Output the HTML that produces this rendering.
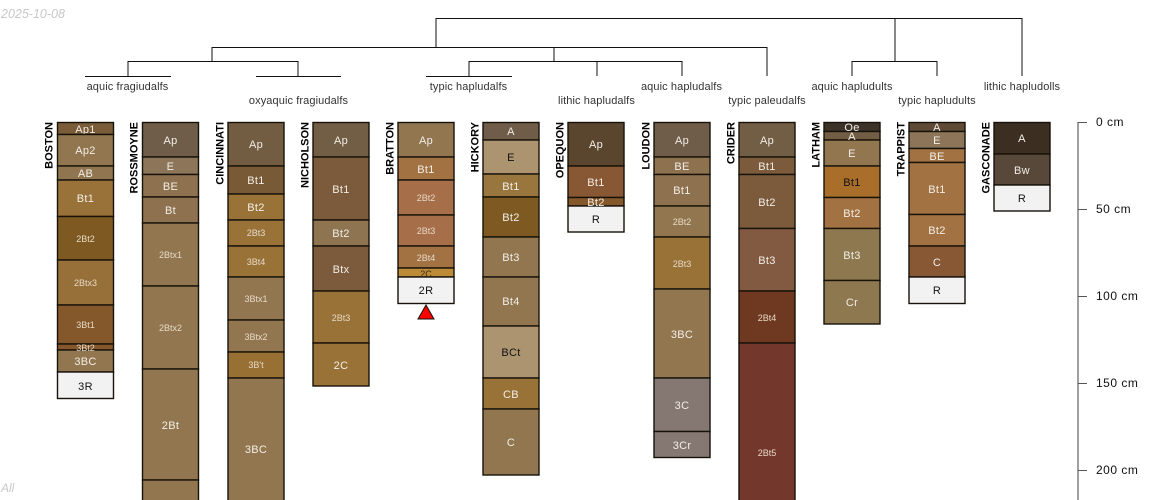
<!DOCTYPE html>
<html><head><meta charset="utf-8"><style>
html,body{margin:0;padding:0;background:#fff}
svg{display:block}
text{font-family:"Liberation Sans",sans-serif}
.h rect{stroke:#17120a;stroke-width:1.4}
.h text{font-size:11px;fill:#f2eee6;text-anchor:middle;letter-spacing:.3px}
.h text.s{font-size:9px;fill:#e6d9c6;letter-spacing:0}
.h text.k{fill:#111}
.n{font-size:11px;font-weight:bold;text-anchor:end;fill:#000}
.t{font-size:11px;letter-spacing:.1px;text-anchor:middle;fill:#333}
.a{font-size:12px;letter-spacing:.5px;fill:#111}
.d line{stroke:#111;stroke-width:1}
</style></head><body>
<svg width="1150" height="500" viewBox="0 0 1150 500" xmlns="http://www.w3.org/2000/svg">
<text x="1" y="18" font-size="12.5" font-style="italic" fill="#c8c8c8">2025-10-08</text>
<text x="1" y="492" font-size="12" font-style="italic" fill="#c8c8c8">All</text>

<g class="d">
<line x1="436" y1="18.5" x2="1022" y2="18.5"/>
<line x1="436" y1="18" x2="436" y2="47"/>
<line x1="212" y1="47.5" x2="767" y2="47.5"/>
<line x1="212" y1="47" x2="212" y2="62"/>
<line x1="128" y1="61.5" x2="298" y2="61.5"/>
<line x1="128" y1="61" x2="128" y2="76"/>
<line x1="298" y1="61" x2="298" y2="76"/>
<line x1="85" y1="76.5" x2="171" y2="76.5"/>
<line x1="256" y1="76.5" x2="341" y2="76.5"/>
<line x1="554" y1="47" x2="554" y2="62"/>
<line x1="469" y1="61.5" x2="682" y2="61.5"/>
<line x1="469" y1="61" x2="469" y2="76"/>
<line x1="426" y1="76.5" x2="512" y2="76.5"/>
<line x1="597" y1="61" x2="597" y2="76"/>
<line x1="682" y1="61" x2="682" y2="76"/>
<line x1="767" y1="47" x2="767" y2="76"/>
<line x1="895" y1="18" x2="895" y2="62"/>
<line x1="852" y1="61.5" x2="937" y2="61.5"/>
<line x1="852" y1="61" x2="852" y2="76"/>
<line x1="937" y1="61" x2="937" y2="76"/>
<line x1="1022" y1="18" x2="1022" y2="76"/>
</g>
<text class="t" x="127.5" y="90">aquic fragiudalfs</text>
<text class="t" x="298.5" y="104">oxyaquic fragiudalfs</text>
<text class="t" x="468.5" y="90">typic hapludalfs</text>
<text class="t" x="596.5" y="104">lithic hapludalfs</text>
<text class="t" x="681.5" y="90">aquic hapludalfs</text>
<text class="t" x="767" y="104">typic paleudalfs</text>
<text class="t" x="852" y="90">aquic hapludults</text>
<text class="t" x="937" y="104">typic hapludults</text>
<text class="t" x="1022" y="90">lithic hapludolls</text>

<text class="n" transform="translate(52.5,122) rotate(-90)">BOSTON</text>
<text class="n" transform="translate(137.5,122) rotate(-90)">ROSSMOYNE</text>
<text class="n" transform="translate(223.5,122) rotate(-90)">CINCINNATI</text>
<text class="n" transform="translate(308.5,122) rotate(-90)">NICHOLSON</text>
<text class="n" transform="translate(393.5,122) rotate(-90)">BRATTON</text>
<text class="n" transform="translate(478.5,122) rotate(-90)">HICKORY</text>
<text class="n" transform="translate(563.5,122) rotate(-90)">OPEQUON</text>
<text class="n" transform="translate(649.5,122) rotate(-90)">LOUDON</text>
<text class="n" transform="translate(734.5,122) rotate(-90)">CRIDER</text>
<text class="n" transform="translate(819.5,122) rotate(-90)">LATHAM</text>
<text class="n" transform="translate(904.5,122) rotate(-90)">TRAPPIST</text>
<text class="n" transform="translate(989.5,122) rotate(-90)">GASCONADE</text>

<g class="h">
<rect x="57.5" y="122.5" width="56" height="12" fill="#7a5c38"/><text x="85.5" y="133">Ap1</text>
<rect x="57.5" y="134.5" width="56" height="31.5" fill="#927650"/><text x="85.5" y="154">Ap2</text>
<rect x="57.5" y="166" width="56" height="14" fill="#917550"/><text x="85.5" y="177">AB</text>
<rect x="57.5" y="180" width="56" height="36.5" fill="#99723a"/><text x="85.5" y="202">Bt1</text>
<rect x="57.5" y="216.5" width="56" height="43.5" fill="#7e5a22"/><text class="s" x="85.5" y="242">2Bt2</text>
<rect x="57.5" y="260" width="56" height="45" fill="#976f38"/><text class="s" x="85.5" y="286">2Btx3</text>
<rect x="57.5" y="305" width="56" height="39" fill="#84582a"/><text class="s" x="85.5" y="328">3Bt1</text>
<rect x="57.5" y="344" width="56" height="6" fill="#84582a"/>
<rect x="57.5" y="350" width="56" height="22" fill="#927650"/><text x="85.5" y="365">3BC</text>
<text class="s" x="85.5" y="351">3Bt2</text>
<rect x="57.5" y="372" width="56" height="26.5" fill="#f2f2f2"/><text class="k" x="85.5" y="390">3R</text>

<rect x="142.5" y="122.5" width="56" height="34.5" fill="#6f5d4a"/><text x="170.5" y="144">Ap</text>
<rect x="142.5" y="157" width="56" height="17.5" fill="#8c7558"/><text x="170.5" y="170">E</text>
<rect x="142.5" y="174.5" width="56" height="22.5" fill="#8e7250"/><text x="170.5" y="190">BE</text>
<rect x="142.5" y="197" width="56" height="26" fill="#8e7250"/><text x="170.5" y="214">Bt</text>
<rect x="142.5" y="223" width="56" height="63" fill="#927650"/><text class="s" x="170.5" y="258">2Btx1</text>
<rect x="142.5" y="286" width="56" height="83" fill="#927650"/><text class="s" x="170.5" y="331">2Btx2</text>
<rect x="142.5" y="369" width="56" height="111" fill="#927650"/><text x="170.5" y="429">2Bt</text>
<rect x="142.5" y="480" width="56" height="30" fill="#927650"/>

<rect x="228" y="122.5" width="56" height="43.5" fill="#725c42"/><text x="256" y="148">Ap</text>
<rect x="228" y="166" width="56" height="28" fill="#785a36"/><text x="256" y="184">Bt1</text>
<rect x="228" y="194" width="56" height="26" fill="#997238"/><text x="256" y="211">Bt2</text>
<rect x="228" y="220" width="56" height="26" fill="#997238"/><text class="s" x="256" y="236">2Bt3</text>
<rect x="228" y="246" width="56" height="31" fill="#997238"/><text class="s" x="256" y="265">3Bt4</text>
<rect x="228" y="277" width="56" height="43" fill="#927650"/><text class="s" x="256" y="302">3Btx1</text>
<rect x="228" y="320" width="56" height="32" fill="#927650"/><text class="s" x="256" y="340">3Btx2</text>
<rect x="228" y="352" width="56" height="26" fill="#987034"/><text class="s" x="256" y="368">3B't</text>
<rect x="228" y="378" width="56" height="132" fill="#927650"/><text x="256" y="453">3BC</text>

<rect x="313" y="122.5" width="56" height="34.5" fill="#725e44"/><text x="341" y="144">Ap</text>
<rect x="313" y="157" width="56" height="63" fill="#7b5b3c"/><text x="341" y="193">Bt1</text>
<rect x="313" y="220" width="56" height="26" fill="#8e7450"/><text x="341" y="237">Bt2</text>
<rect x="313" y="246" width="56" height="45" fill="#7b5b3c"/><text x="341" y="273">Btx</text>
<rect x="313" y="291" width="56" height="52" fill="#997238"/><text class="s" x="341" y="321">2Bt3</text>
<rect x="313" y="343" width="56" height="43" fill="#997238"/><text x="341" y="369">2C</text>

<rect x="398" y="122.5" width="56" height="34.5" fill="#927650"/><text x="426" y="144">Ap</text>
<rect x="398" y="157" width="56" height="23" fill="#a27243"/><text x="426" y="173">Bt1</text>
<rect x="398" y="180" width="56" height="35" fill="#a66e49"/><text class="s" x="426" y="201">2Bt2</text>
<rect x="398" y="215" width="56" height="31" fill="#a66e49"/><text class="s" x="426" y="234">2Bt3</text>
<rect x="398" y="246" width="56" height="22" fill="#a27243"/><text class="s" x="426" y="261">2Bt4</text>
<rect x="398" y="268" width="56" height="9" fill="#bd8a37"/>
<rect x="398" y="277" width="56" height="26.5" fill="#f2f2f2"/><text class="k" x="426" y="294">2R</text>
<text class="s" x="426" y="277" style="fill:#3a2a12">2C</text>
<polygon points="426,305 418,319 434,319" fill="#f00" stroke="#111" stroke-width="1"/>

<rect x="483" y="122.5" width="56" height="17.5" fill="#6f5d4a"/><text x="511" y="135">A</text>
<rect x="483" y="140" width="56" height="34" fill="#ad9470"/><text class="k" x="511" y="161">E</text>
<rect x="483" y="174" width="56" height="23" fill="#99763e"/><text x="511" y="190">Bt1</text>
<rect x="483" y="197" width="56" height="40" fill="#7e5a22"/><text x="511" y="221">Bt2</text>
<rect x="483" y="237" width="56" height="40" fill="#927650"/><text x="511" y="261">Bt3</text>
<rect x="483" y="277" width="56" height="49" fill="#927650"/><text x="511" y="305">Bt4</text>
<rect x="483" y="326" width="56" height="52" fill="#ad9470"/><text class="k" x="511" y="356">BCt</text>
<rect x="483" y="378" width="56" height="31" fill="#997238"/><text x="511" y="398">CB</text>
<rect x="483" y="409" width="56" height="66" fill="#927650"/><text x="511" y="446">C</text>

<rect x="568" y="122.5" width="56" height="43.5" fill="#5a452e"/><text x="596" y="148">Ap</text>
<rect x="568" y="166" width="56" height="31.5" fill="#885734"/><text x="596" y="186">Bt1</text>
<rect x="568" y="197.5" width="56" height="8.5" fill="#84582a"/>
<rect x="568" y="206" width="56" height="26" fill="#f2f2f2"/><text class="k" x="596" y="223">R</text>
<text x="596" y="206">Bt2</text>

<rect x="654" y="122.5" width="56" height="34.5" fill="#6f5d4a"/><text x="682" y="144">Ap</text>
<rect x="654" y="157" width="56" height="17.5" fill="#8e7250"/><text x="682" y="170">BE</text>
<rect x="654" y="174.5" width="56" height="31.5" fill="#8e7250"/><text x="682" y="194">Bt1</text>
<rect x="654" y="206" width="56" height="31" fill="#927650"/><text class="s" x="682" y="225">2Bt2</text>
<rect x="654" y="237" width="56" height="52" fill="#997238"/><text class="s" x="682" y="267">2Bt3</text>
<rect x="654" y="289" width="56" height="89" fill="#927650"/><text x="682" y="338">3BC</text>
<rect x="654" y="378" width="56" height="53.5" fill="#857873"/><text x="682" y="409">3C</text>
<rect x="654" y="431.5" width="56" height="26" fill="#857873"/><text x="682" y="449">3Cr</text>

<rect x="739" y="122.5" width="56" height="34.5" fill="#725e44"/><text x="767" y="144">Ap</text>
<rect x="739" y="157" width="56" height="17.5" fill="#7b5b3c"/><text x="767" y="170">Bt1</text>
<rect x="739" y="174.5" width="56" height="54" fill="#7b5b3c"/><text x="767" y="206">Bt2</text>
<rect x="739" y="228.5" width="56" height="62.5" fill="#825a42"/><text x="767" y="264">Bt3</text>
<rect x="739" y="291" width="56" height="52" fill="#6f3820"/><text class="s" x="767" y="321">2Bt4</text>
<rect x="739" y="343" width="56" height="167" fill="#74372c"/><text class="s" x="767" y="456">2Bt5</text>

<rect x="824" y="122.5" width="56" height="9" fill="#3c3228"/>
<rect x="824" y="131.5" width="56" height="8.5" fill="#725e44"/>
<rect x="824" y="140" width="56" height="26" fill="#927650"/><text x="852" y="157">E</text>
<text x="852" y="131">Oe</text>
<text x="852" y="140">A</text>
<rect x="824" y="166" width="56" height="31.5" fill="#a86e2a"/><text class="k" x="852" y="186">Bt1</text>
<rect x="824" y="197.5" width="56" height="31" fill="#a27243"/><text x="852" y="217">Bt2</text>
<rect x="824" y="228.5" width="56" height="52" fill="#8e7850"/><text x="852" y="259">Bt3</text>
<rect x="824" y="280.5" width="56" height="43.5" fill="#8e7850"/><text x="852" y="306">Cr</text>

<rect x="909" y="122.5" width="56" height="9" fill="#5e4a36"/>
<rect x="909" y="131.5" width="56" height="17" fill="#8c7558"/><text x="937" y="144">E</text>
<text x="937" y="131">A</text>
<rect x="909" y="148.5" width="56" height="14" fill="#a27243"/><text x="937" y="160">BE</text>
<rect x="909" y="162.5" width="56" height="52" fill="#a27243"/><text x="937" y="193">Bt1</text>
<rect x="909" y="214.5" width="56" height="31.5" fill="#a27243"/><text x="937" y="234">Bt2</text>
<rect x="909" y="246" width="56" height="31" fill="#885734"/><text x="937" y="266">C</text>
<rect x="909" y="277" width="56" height="26.5" fill="#f2f2f2"/><text class="k" x="937" y="294">R</text>

<rect x="994" y="122.5" width="56" height="31.5" fill="#3c2e20"/><text x="1022" y="142">A</text>
<rect x="994" y="154" width="56" height="31" fill="#58483a"/><text x="1022" y="174">Bw</text>
<rect x="994" y="185" width="56" height="26" fill="#f2f2f2"/><text class="k" x="1022" y="202">R</text>
</g>

<line x1="1078" y1="122" x2="1078" y2="500" stroke="#888" stroke-width="1.6"/>
<g stroke="#555" stroke-width="1">
<line x1="1078" y1="122.5" x2="1087" y2="122.5"/>
<line x1="1078" y1="209.5" x2="1087" y2="209.5"/>
<line x1="1078" y1="296.5" x2="1087" y2="296.5"/>
<line x1="1078" y1="383.5" x2="1087" y2="383.5"/>
<line x1="1078" y1="470.5" x2="1087" y2="470.5"/>
</g>
<text class="a" x="1096" y="126">0 cm</text>
<text class="a" x="1096" y="213">50 cm</text>
<text class="a" x="1096" y="300">100 cm</text>
<text class="a" x="1096" y="387">150 cm</text>
<text class="a" x="1096" y="474">200 cm</text>
</svg>
</body></html>
